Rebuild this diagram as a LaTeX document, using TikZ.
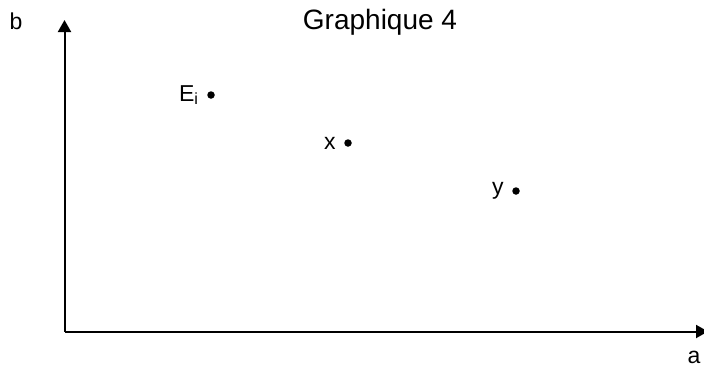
\documentclass[tikz,border=0pt]{standalone}
\usepackage{fontspec}
\setmainfont{Liberation Sans}
\usetikzlibrary{arrows.meta,positioning}
\begin{document}
\begin{tikzpicture}[x=1pt, y=-1pt, node distance = 5pt, auto,
  dot/.style={circle, fill, inner sep=0pt, minimum size=7.5pt},
  lbl/.style={font=\fontsize{23}{27}\selectfont},
  axis/.style={line width=2pt, -{Triangle[length=12pt,width=13pt]}}]
  \useasboundingbox (0,0) rectangle (704,367);
  % axes
  \coordinate (O) at (64.5,331.5);
  \coordinate (B) at (64.5,20);
  \coordinate (A) at (708,331.5);
  \draw [axis] (O) -- (B);
  \draw [axis] (O) -- (A);
  \node [lbl] (b) at (16,21) {b};
  \node [lbl] (a) at (694,357) {a};
  \node [font=\fontsize{28}{32}\selectfont] (title) at (380,22) {Graphique 4};
  % points
  \node [dot] (Ei) at (211,95) {};
  \node [dot] (x) at (348,143) {};
  \node [dot] (y) at (516,191) {};
  \node [lbl] (EiL) [left=of Ei] {E\textsubscript{i}};
  \node [lbl] (xL) [left=of x] {x};
  \node [lbl] (yL) [left=of y] {y};
\end{tikzpicture}
\end{document}
